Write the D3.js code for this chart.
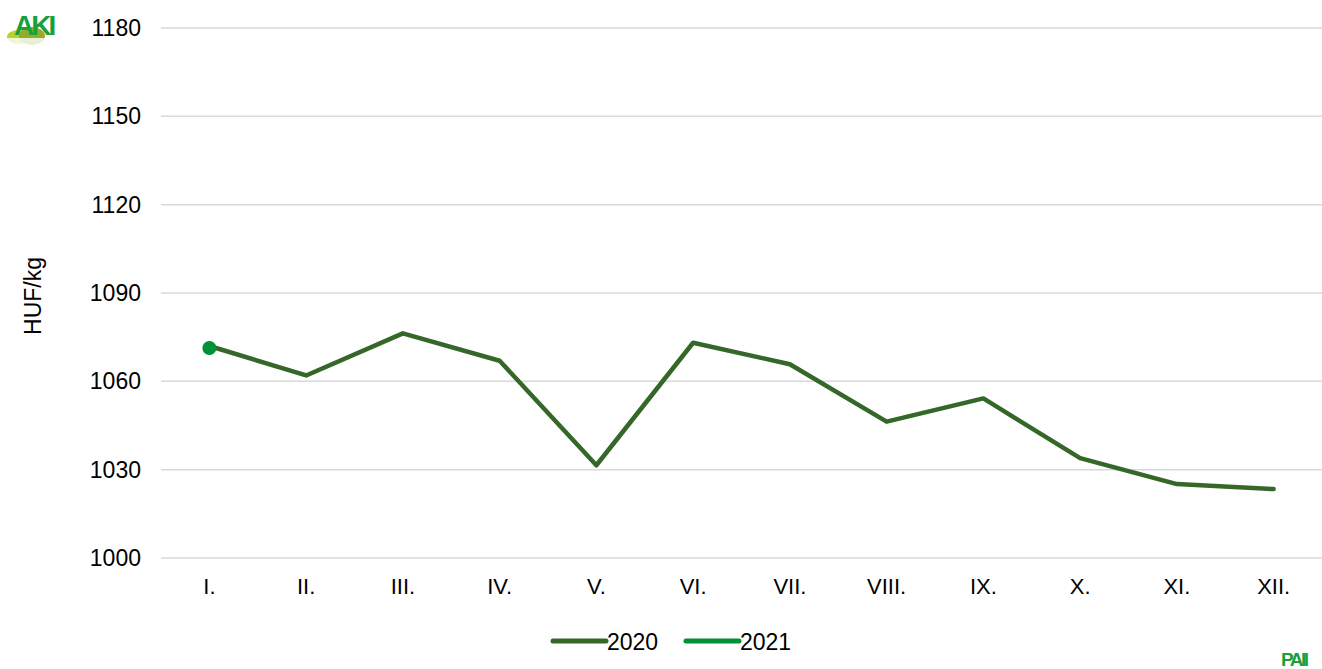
<html>
<script src='https://d3js.org/d3.v7.min.js'></script>
<style> body {margin:0; background:#fff;} text {font-family: "Liberation Sans", Arial, sans-serif;} </style>
<body>
<svg width=1322 height=669></svg>
<script>
// data
const months = ["I.", "II.", "III.", "IV.", "V.", "VI.", "VII.", "VIII.", "IX.", "X.", "XI.", "XII."];
const values2020 = [1072, 1062, 1076.3, 1067, 1031.5, 1073.1, 1065.8, 1046.3, 1054.2, 1033.9, 1025.1, 1023.4];
const values2021 = [1071.3];
const yTicks = [1000, 1030, 1060, 1090, 1120, 1150, 1180];
const seriesNames = ["2020", "2021"];
const seriesColors = ["#356729", "#009038"];

var svg = d3.select("svg");

var x = d3.scaleBand().domain(months).range([161, 1322]);
var y = d3.scaleLinear().domain([1000, 1180]).range([558, 28]);

// gridlines
svg.append("g")
  .selectAll("line")
  .data(yTicks)
  .enter().append("line")
  .attr("x1", 161).attr("x2", 1322)
  .attr("y1", d => y(d)).attr("y2", d => y(d))
  .attr("stroke", "#d9d9d9").attr("stroke-width", 1.5);

// y axis
var yAxis = svg.append("g").attr("transform", "translate(151,0)")
  .call(d3.axisLeft(y).tickValues(yTicks).tickFormat(d3.format("d")).tickSize(0).tickPadding(10));
yAxis.select(".domain").remove();
yAxis.selectAll("text").style("font-size", "23px").style("fill", "#000")
  .style("font-family", "'Liberation Sans', Arial, sans-serif");

// x axis
var xAxis = svg.append("g").attr("transform", "translate(0,572)")
  .call(d3.axisBottom(x).tickSize(0).tickPadding(6));
xAxis.select(".domain").remove();
xAxis.selectAll("text").style("font-size", "22px").style("fill", "#000")
  .style("font-family", "'Liberation Sans', Arial, sans-serif");

svg.append("text")
  .attr("transform", "translate(41,296) rotate(-90)")
  .attr("text-anchor", "middle")
  .style("font-size", "23px")
  .text("HUF/kg");

var cx = d => x(d) + x.bandwidth() / 2;

var line = d3.line()
  .x((d, i) => cx(months[i]))
  .y(d => y(d));

svg.append("path")
  .datum(values2020)
  .attr("d", line)
  .attr("fill", "none")
  .attr("stroke", seriesColors[0])
  .attr("stroke-width", 4.5)
  .attr("stroke-linejoin", "round")
  .attr("stroke-linecap", "round");

svg.append("g").selectAll("circle")
  .data(values2021)
  .enter().append("circle")
  .attr("cx", (d, i) => cx(months[i]))
  .attr("cy", d => y(d))
  .attr("r", 7)
  .attr("fill", seriesColors[1]);

// legend
var legend = svg.append("g").selectAll("g")
  .data(seriesNames)
  .enter().append("g")
  .attr("transform", (d, i) => "translate(" + (553 + i * 133) + ",641)");
legend.append("line")
  .attr("x1", 0).attr("x2", 53).attr("y1", 0).attr("y2", 0)
  .attr("stroke", (d, i) => seriesColors[i])
  .attr("stroke-width", 5).attr("stroke-linecap", "round");
legend.append("text")
  .attr("x", 54).attr("y", 9)
  .style("font-size", "23px")
  .text(d => d);

// AKI logo
var logo = svg.append("g");
logo.append("ellipse").attr("cx", 19).attr("cy", 37).attr("rx", 12).attr("ry", 7).attr("fill", "#b9d12c");
logo.append("ellipse").attr("cx", 32).attr("cy", 36).attr("rx", 13).attr("ry", 9).attr("fill", "#92ad2a");
logo.append("rect").attr("x", 0).attr("y", 38).attr("width", 60).attr("height", 14).attr("fill", "#fff").attr("opacity", 0.8);
logo.append("text").attr("x", 14).attr("y", 35).style("font-size", "28px").style("font-weight", "bold")
  .style("fill", "#1aa03a").style("letter-spacing", "-3px").text("AKI");

// PAII mark
svg.append("text").attr("x", 1281).attr("y", 666).style("font-size", "19px").style("font-weight", "bold")
  .style("fill", "#1aa03a").style("letter-spacing", "-2.5px").text("PAII");
</script>
</body>
</html>
